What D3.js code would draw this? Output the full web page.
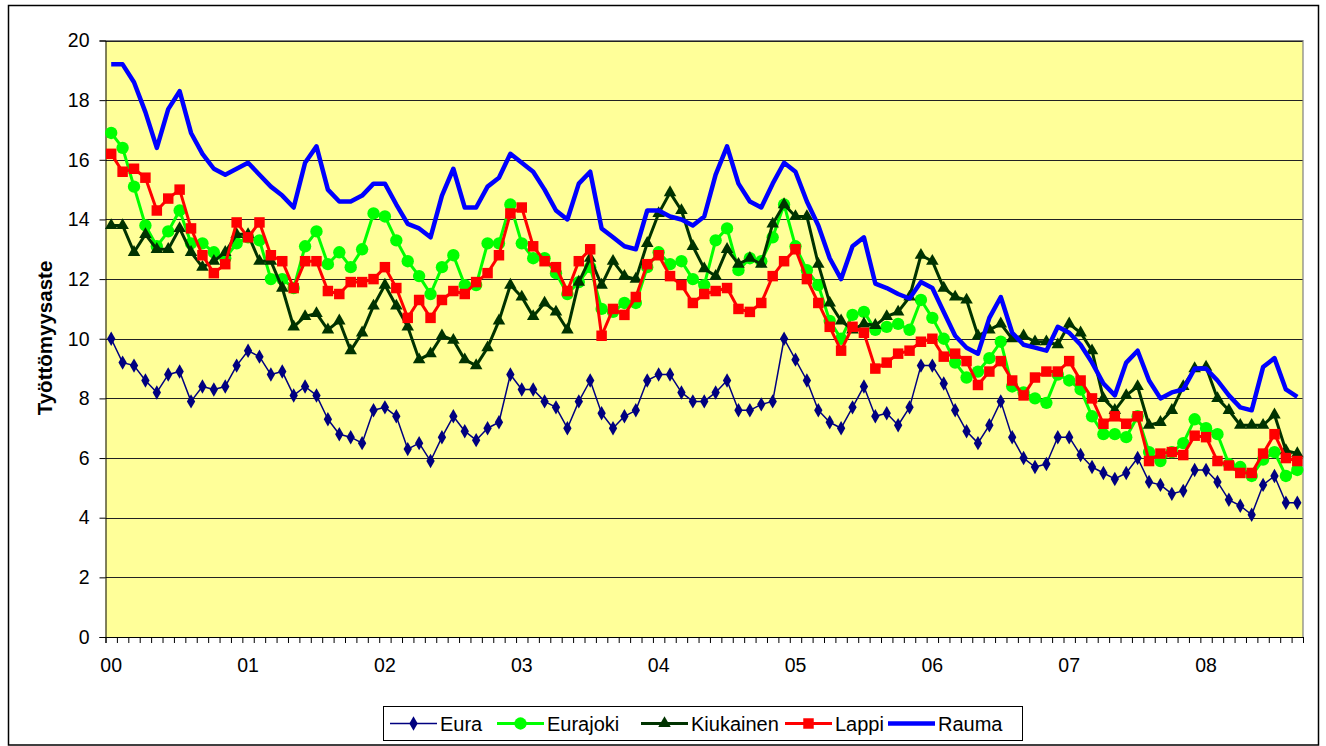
<!DOCTYPE html>
<html>
<head>
<meta charset="utf-8">
<script src="https://cdn.jsdelivr.net/npm/d3@7"></script>
<style>
  html, body { margin: 0; padding: 0; background: #fff; }
  svg { display: block; font-family: "Liberation Sans", Arial, sans-serif; }
</style>
</head>
<body>
<svg id="chart" width="1326" height="746"></svg>
<script>
// ---- data ----
const yearLabels = ["00","01","02","03","04","05","06","07","08"];
const categories = yearLabels.flatMap(y => d3.range(1, 13).map(m => y + "/" + m)).slice(0, 105);
const yTicks = [0, 2, 4, 6, 8, 10, 12, 14, 16, 18, 20];
const yTitle = "Työttömyysaste";

const eura = [10.0,9.2,9.1,8.6,8.2,8.8,8.9,7.9,8.4,8.3,8.4,9.1,9.6,9.4,8.8,8.9,8.1,8.4,
  8.1,7.3,6.8,6.7,6.5,7.6,7.7,7.4,6.3,6.5,5.9,6.7,7.4,6.9,6.6,7.0,7.2,
  8.8,8.3,8.3,7.9,7.7,7.0,7.9,8.6,7.5,7.0,7.4,7.6,8.6,8.8,8.8,8.2,7.9,7.9,
  8.2,8.6,7.6,7.6,7.8,7.9,10.0,9.3,8.6,7.6,7.2,7.0,7.7,8.4,7.4,7.5,7.1,
  7.7,9.1,9.1,8.5,7.6,6.9,6.5,7.1,7.9,6.7,6.0,5.7,5.8,6.7,6.7,6.1,5.7,5.5,
  5.3,5.5,6.0,5.2,5.1,4.8,4.9,5.6,5.6,5.2,4.6,4.4,4.1,5.1,5.4,4.5,4.5];
const eurajoki = [16.9,16.4,15.1,13.8,13.1,13.6,14.3,13.2,13.2,12.9,12.7,13.2,13.4,13.3,12.0,12.0,11.7,13.1,
  13.6,12.5,12.9,12.4,13.0,14.2,14.1,13.3,12.6,12.1,11.5,12.4,12.8,11.8,11.8,13.2,13.2,
  14.5,13.2,12.7,12.7,12.2,11.5,11.9,12.4,11.0,10.9,11.2,11.2,12.4,12.9,12.5,12.6,12.0,11.8,
  13.3,13.7,12.3,12.7,12.6,13.4,14.5,13.1,12.3,11.8,10.6,10.0,10.8,10.9,10.3,10.4,10.5,
  10.3,11.3,10.7,10.0,9.2,8.7,8.9,9.35,9.9,8.4,8.2,8.0,7.85,8.8,8.6,8.3,7.4,6.8,
  6.8,6.7,7.4,6.2,5.9,6.2,6.5,7.3,7.0,6.8,5.8,5.7,5.4,5.95,6.2,5.4,5.6];
const kiukainen = [13.8,13.8,12.9,13.5,13.0,13.0,13.7,12.9,12.4,12.6,12.9,13.5,13.5,12.6,12.6,11.7,10.4,10.75,
  10.85,10.3,10.6,9.6,10.2,11.1,11.8,11.1,10.4,9.3,9.5,10.1,9.95,9.3,9.1,9.7,10.6,
  11.8,11.4,10.75,11.2,10.9,10.3,11.9,12.7,11.8,12.6,12.1,12.0,13.2,14.2,14.9,14.3,13.1,12.35,
  12.1,13.0,12.5,12.7,12.5,13.85,14.5,14.1,14.1,12.5,11.2,10.6,10.3,10.5,10.45,10.75,10.9,
  11.4,12.8,12.6,11.7,11.4,11.3,10.1,10.3,10.5,10.0,10.1,9.9,9.9,9.8,10.5,10.2,9.6,8.0,
  7.6,8.1,8.4,7.1,7.2,7.6,8.4,9.0,9.05,8.0,7.6,7.1,7.1,7.1,7.45,6.25,6.15];
const lappi = [16.2,15.6,15.7,15.4,14.3,14.7,15.0,13.7,12.8,12.2,12.5,13.9,13.4,13.9,12.8,12.6,11.7,12.6,
  12.6,11.6,11.5,11.9,11.9,12.0,12.4,11.7,10.7,11.3,10.7,11.3,11.6,11.5,11.9,12.2,12.8,
  14.2,14.4,13.1,12.6,12.4,11.6,12.6,13.0,10.1,11.0,10.8,11.4,12.5,12.8,12.1,11.8,11.2,11.5,
  11.6,11.7,11.0,10.9,11.2,12.1,12.6,13.0,12.0,11.2,10.4,9.6,10.4,10.2,9.0,9.2,9.5,
  9.6,9.9,10.0,9.4,9.5,9.25,8.45,8.9,9.25,8.6,8.1,8.7,8.9,8.9,9.25,8.6,8.0,7.15,
  7.4,7.15,7.4,5.9,6.15,6.2,6.1,6.75,6.7,5.9,5.75,5.5,5.5,6.15,6.8,6.0,5.9];
const rauma = [19.2,19.2,18.6,17.6,16.4,17.7,18.3,16.9,16.2,15.7,15.5,15.7,15.9,15.5,15.1,14.8,14.4,15.9,
  16.45,15.0,14.6,14.6,14.8,15.2,15.2,14.5,13.85,13.7,13.4,14.8,15.7,14.4,14.4,15.1,15.4,
  16.2,15.9,15.6,15.0,14.3,14.0,15.2,15.6,13.7,13.4,13.1,13.0,14.3,14.3,14.1,14.0,13.8,14.1,
  15.5,16.45,15.2,14.6,14.4,15.2,15.9,15.6,14.6,13.8,12.7,12.0,13.1,13.4,11.85,11.7,11.5,
  11.35,11.9,11.7,10.9,10.1,9.7,9.5,10.7,11.4,10.2,9.8,9.7,9.6,10.4,10.2,9.8,9.2,8.5,
  8.1,9.2,9.6,8.6,8.0,8.2,8.3,9.0,9.0,8.6,8.1,7.7,7.6,9.05,9.35,8.3,8.05];

const seriesNames = ["Eura", "Eurajoki", "Kiukainen", "Lappi", "Rauma"];
const seriesValues = [eura, eurajoki, kiukainen, lappi, rauma];

// ---- styles ----
const styles = {
  "Eura":      { color: "#000080", width: 1.5, symbol: d3.symbolDiamond, size: 60 },
  "Eurajoki":  { color: "#00FF00", width: 3,   symbol: d3.symbolCircle,  size: 120 },
  "Kiukainen": { color: "#003300", width: 3,   symbol: d3.symbolTriangle, size: 68 },
  "Lappi":     { color: "#FF0000", width: 3,   symbol: d3.symbolSquare,  size: 110 },
  "Rauma":     { color: "#0000FF", width: 4.5, symbol: null }
};

const svg = d3.select("#chart");
const L = 105.5, R = 1303, T = 40.5, B = 637;

// outer border
svg.append("rect").attr("x", 8.5).attr("y", 5.5).attr("width", 1310).attr("height", 739.5)
  .attr("fill", "#fff").attr("stroke", "#000").attr("stroke-width", 1.5);

const x = d3.scaleBand().domain(categories).range([L, R]).padding(0);
const xLin = d3.scaleLinear().domain([0, categories.length]).range([L, R]);
const y = d3.scaleLinear().domain([0, 20]).range([B, T]);
const cx = c => x(c) + x.bandwidth() / 2;

// plot background
svg.append("rect").attr("x", L).attr("y", T).attr("width", R - L).attr("height", B - T)
  .attr("fill", "#FFFF99");

// grid
svg.append("g").selectAll("line").data(yTicks.filter(v => v > 0)).join("line")
  .attr("x1", L).attr("x2", R)
  .attr("y1", d => Math.round(y(d)) + 0.5).attr("y2", d => Math.round(y(d)) + 0.5)
  .attr("stroke", "#222").attr("stroke-width", 1);

// plot border top/right
svg.append("path").attr("d", `M${L},${T}H${R}V${B}`).attr("fill", "none")
  .attr("stroke", "#808080").attr("stroke-width", 1.2);

// y axis
const yAxis = svg.append("g").attr("transform", `translate(${L},0)`)
  .call(d3.axisLeft(y).tickValues(yTicks).tickSize(6).tickPadding(10).tickFormat(d3.format("d")));
yAxis.select(".domain").attr("stroke", "#000");
yAxis.selectAll("line").attr("stroke", "#000");
yAxis.selectAll("text").attr("font-size", 19.5).attr("font-family", "Liberation Sans, Arial, sans-serif").attr("fill", "#000");

// x axis ticks at category boundaries
const xAxis = svg.append("g").attr("transform", `translate(0,${B})`)
  .call(d3.axisBottom(xLin).tickValues(d3.range(0, categories.length + 1)).tickSize(6).tickFormat(""));
xAxis.select(".domain").attr("stroke", "#000");
xAxis.selectAll("line").attr("stroke", "#000");

// x labels
const xLab = svg.append("g").attr("transform", `translate(0,${B})`)
  .call(d3.axisBottom(x).tickValues(categories.filter((c, i) => i % 12 === 0))
    .tickSize(0).tickPadding(21).tickFormat(c => c.split("/")[0]));
xLab.select(".domain").remove();
xLab.selectAll("text").attr("font-size", 19.5).attr("font-family", "Liberation Sans, Arial, sans-serif").attr("fill", "#000");

// y title
svg.append("text").attr("transform", `translate(52,338) rotate(-90)`)
  .attr("text-anchor", "middle").attr("font-size", 20.5).attr("font-weight", "bold")
  .text(yTitle);

// series
const line = d3.line().x((d, i) => cx(categories[i])).y(d => y(d));
const plot = svg.append("g");
seriesNames.forEach((name, k) => {
  const s = styles[name];
  const vals = seriesValues[k];
  plot.append("path").datum(vals).attr("d", line).attr("fill", "none")
    .attr("stroke", s.color).attr("stroke-width", s.width).attr("stroke-linejoin", "round");
  if (s.symbol) {
    plot.append("g").selectAll("path").data(vals).join("path")
      .attr("transform", (d, i) => `translate(${cx(categories[i])},${y(d)})`)
      .attr("d", d3.symbol(s.symbol, s.size)).attr("fill", s.color);
  }
});

// legend
const lg = svg.append("g");
lg.append("rect").attr("x", 383.5).attr("y", 706.5).attr("width", 639).attr("height", 34)
  .attr("fill", "#fff").attr("stroke", "#000").attr("stroke-width", 1);
const legendX = [390, 497, 641, 785, 888];
seriesNames.forEach((name, k) => {
  const s = styles[name];
  const x0 = legendX[k], ly = 723.5;
  lg.append("line").attr("x1", x0).attr("x2", x0 + 47).attr("y1", ly).attr("y2", ly)
    .attr("stroke", s.color).attr("stroke-width", s.width);
  if (s.symbol) {
    lg.append("path").attr("transform", `translate(${x0 + 23.5},${ly})`)
      .attr("d", d3.symbol(s.symbol, s.size)).attr("fill", s.color);
  }
  lg.append("text").attr("x", x0 + 50).attr("y", ly + 7).attr("font-size", 20)
    .attr("fill", "#000").text(name);
});
</script>
</body>
</html>
